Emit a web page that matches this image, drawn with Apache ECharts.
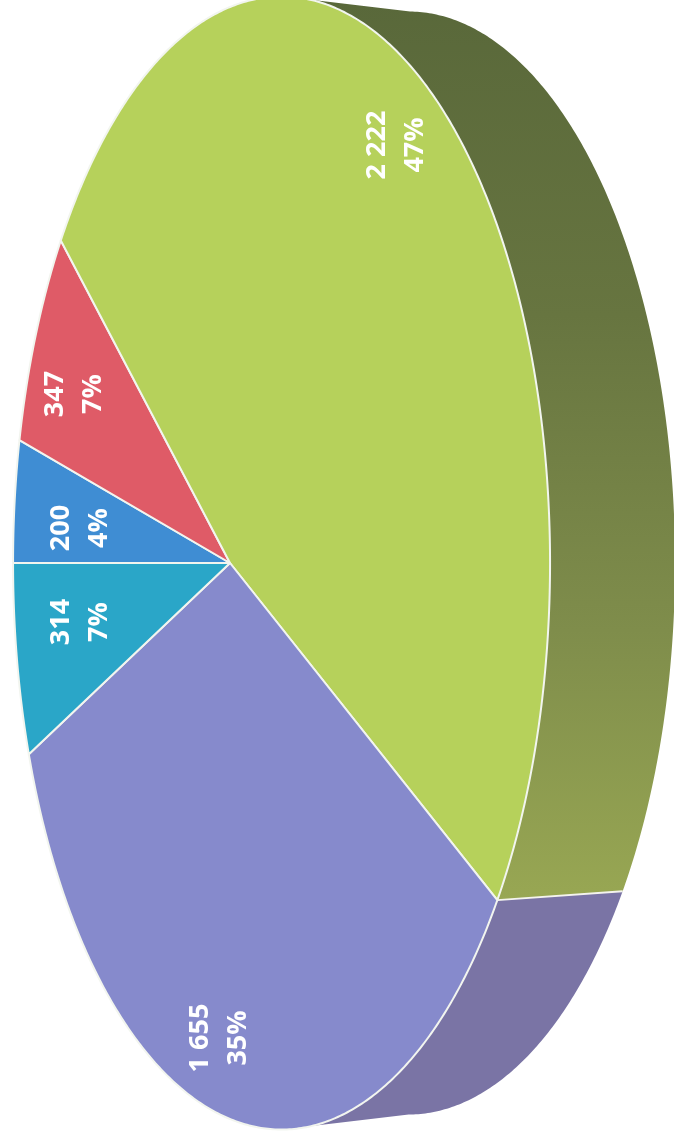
<!DOCTYPE html>
<html>
<head>
<meta charset="utf-8">
<style>html,body{margin:0;padding:0;background:#fff}#c{width:674px;height:1140px}</style>
<script src="https://cdn.jsdelivr.net/npm/echarts@6/dist/echarts.min.js"></script>
</head>
<body>
<div id="c"></div>
<script>
// Data, in drawing order (clockwise on screen from the left-pointing radius)
const sliceNames = ['blue', 'red', 'green', 'purple', 'teal'];
const sliceValues = [200, 347, 2222, 1655, 314];
const valueLabels = ['200', '347', '2 222', '1 655', '314'];

const faceColors = ['#3f8dd3', '#df5b67', '#b6d15b', '#868ACC', '#2aa6c8'];
const labelCenters = [[80, 528], [74, 394], [396, 145], [219, 1038], [80, 622]];

// Layout of the tilted disc (perspective projection of a circle)
const apex = [230, 563], persp = -0.192, radX = 258.6, radY = 556;
const topC = [281.5, 563], topR = [268.5, 567];
const wallC = [408, 563], wallR = [267, 552];

const total = sliceValues.reduce((a, b) => a + b, 0);
const starts = [];
sliceValues.reduce((acc, v, i) => { starts[i] = acc; return acc + v; }, 0);

// value position along the rim -> projected point on the top face
function rim(cum) {
  const th = Math.PI + (cum / total) * 2 * Math.PI; // screen-clockwise from left
  const c = Math.cos(th), s = Math.sin(th), d = 1 + persp * c;
  return [apex[0] + radX * c / d, apex[1] + radY * s / d];
}
function wallPoint(p) {
  return [wallC[0] + (p[0] - topC[0]) * wallR[0] / topR[0],
          wallC[1] + (p[1] - topC[1]) * wallR[1] / topR[1]];
}
function arc(i) {
  const pts = [], n = Math.max(8, Math.ceil(sliceValues[i] / total * 720));
  for (let k = 0; k <= n; k++) pts.push(rim(starts[i] + sliceValues[i] * k / n));
  return pts;
}
function wallFill(i) {
  if (sliceNames[i] === 'green') {
    return new echarts.graphic.LinearGradient(0, 0, 0, 900, [
      {offset: 0, color: '#59683a'},
      {offset: 0.35, color: '#677540'},
      {offset: 0.7, color: '#7f8d4b'},
      {offset: 1, color: '#98a753'}
    ], true);
  }
  return '#7a74a5';
}

const chart = echarts.init(document.getElementById('c'), null, {renderer: 'canvas'});
const seriesData = sliceValues.map((v, i) => ({name: sliceNames[i], value: v}));

chart.setOption({
  animation: false,
  backgroundColor: '#ffffff',
  series: [
    {
      type: 'custom', coordinateSystem: 'none', z: 1, silent: true,
      data: seriesData,
      renderItem: function (params) {
        const i = params.dataIndex;
        // the wall shows only on the part of the rim right of the disc centre
        const top = arc(i).filter(p => p[0] >= topC[0]);
        if (!top.length) return {type: 'group', children: []};
        const low = top.map(wallPoint), fill = wallFill(i);
        return {
          type: 'polygon',
          shape: {points: low.concat(top.slice().reverse())},
          style: {fill: fill}
        };
      }
    },
    {
      type: 'custom', coordinateSystem: 'none', z: 2, silent: true,
      data: seriesData,
      renderItem: function (params) {
        const i = params.dataIndex;
        const edge = rim(starts[i]);
        const children = [];
        if (sliceNames[i] === 'purple') {
          children.push({
            type: 'line',
            shape: {x1: edge[0], y1: edge[1], x2: wallPoint(edge)[0], y2: wallPoint(edge)[1]},
            style: {stroke: '#f4f4ee', lineWidth: 2}
          });
        }
        children.push({
          type: 'polygon',
          shape: {points: [apex].concat(arc(i))},
          style: {fill: faceColors[i], stroke: '#f2f5ef', lineWidth: 2, lineJoin: 'round'}
        });
        return {type: 'group', children: children};
      }
    },
    {
      type: 'custom', coordinateSystem: 'none', z: 3, silent: true,
      data: seriesData,
      renderItem: function (params) {
        const i = params.dataIndex;
        const pct = Math.round(sliceValues[i] / total * 100) + '%';
        return {
          type: 'text',
          x: labelCenters[i][0], y: labelCenters[i][1],
          rotation: Math.PI / 2,
          style: {
            text: valueLabels[i] + '\n' + pct,
            fill: '#ffffff',
            font: 'bold 27px "Open Sans"',
            lineHeight: 38,
            align: 'center',
            verticalAlign: 'middle'
          }
        };
      }
    }
  ]
});
</script>
</body>
</html>
